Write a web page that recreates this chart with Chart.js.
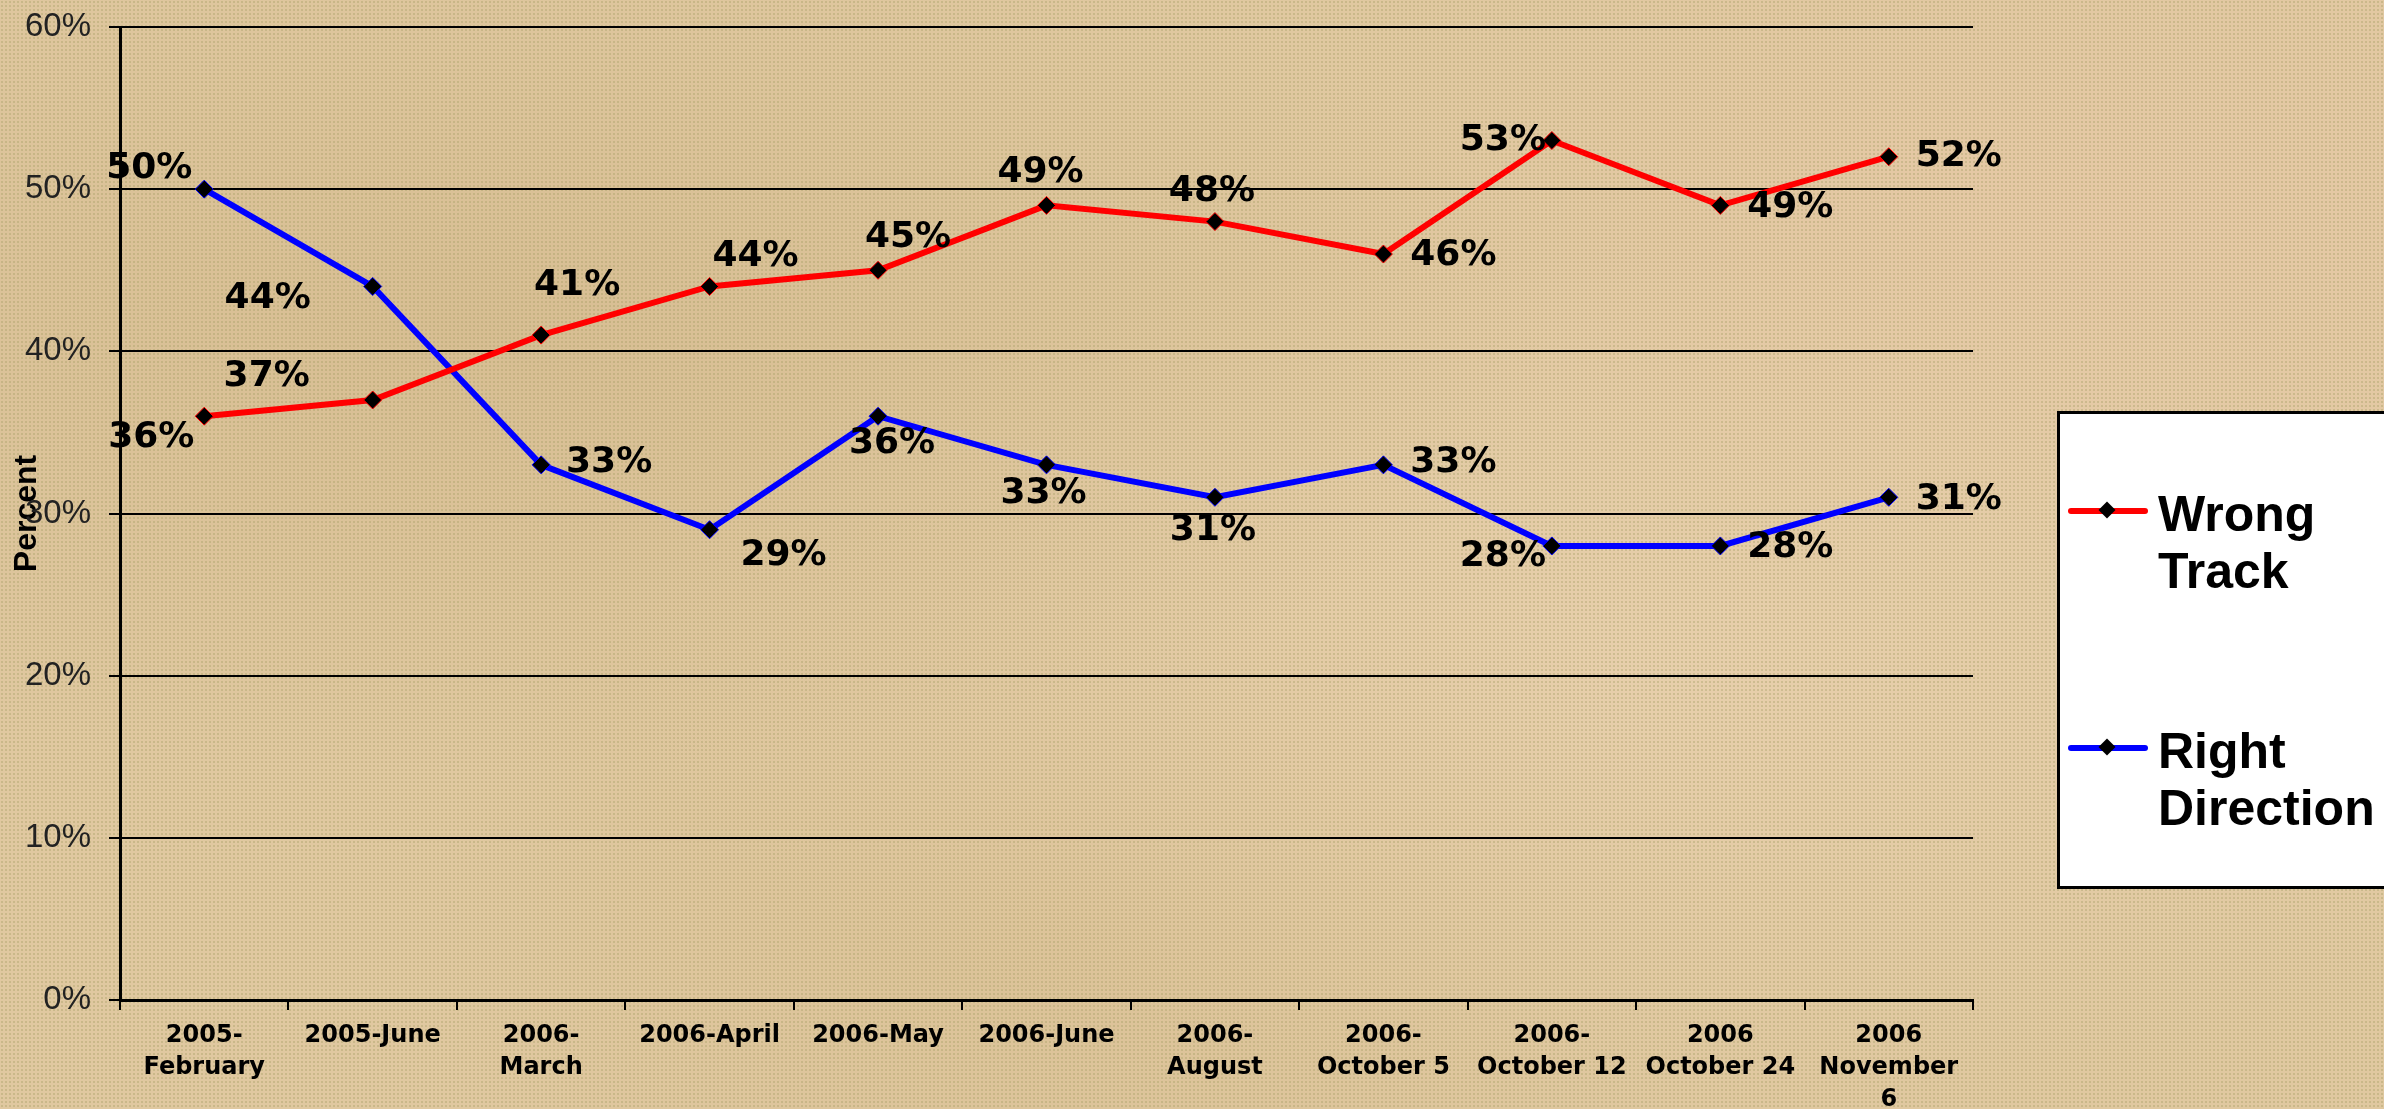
<!DOCTYPE html>
<html>
<head>
<meta charset="utf-8">
<script src="https://cdn.jsdelivr.net/npm/chart.js@4.4.0/dist/chart.umd.min.js"></script>
<style>
  html, body { margin: 0; padding: 0; }
  body {
    width: 2384px; height: 1109px; overflow: hidden; position: relative;
    background-color: #e0c8a0;
    background-image:
      radial-gradient(circle, rgba(160,155,95,0.35) 1px, rgba(0,0,0,0) 1.5px),
      radial-gradient(ellipse at 20% 30%, rgba(195,165,115,0.3), rgba(0,0,0,0) 40%),
      radial-gradient(ellipse at 70% 60%, rgba(240,215,185,0.45), rgba(0,0,0,0) 45%),
      radial-gradient(ellipse at 45% 85%, rgba(205,175,125,0.25), rgba(0,0,0,0) 35%),
      radial-gradient(ellipse at 88% 20%, rgba(240,200,175,0.35), rgba(0,0,0,0) 30%);
    background-size: 4px 4px, 100% 100%, 100% 100%, 100% 100%, 100% 100%;
  }
  #wrap { position: absolute; left: 0; top: 0; width: 2384px; height: 1109px; }
  #legend {
    position: absolute; left: 2057px; top: 411px; width: 340px; height: 478px;
    background: #fff; border: 3px solid #000; box-sizing: border-box;
    font-family: "Liberation Sans", Arial, sans-serif; font-weight: bold;
    font-size: 50px; line-height: 57px; color: #000;
  }
  .item { position: absolute; left: 8px; display: flex; align-items: flex-start; }
  .sample { position: relative; width: 80px; height: 6px; margin-top: 22px; margin-right: 10px; border-radius: 3px; }
  .sample i {
    position: absolute; left: 33px; top: -4px; width: 12px; height: 12px;
    background: #000; transform: rotate(45deg);
  }
</style>
</head>
<body>
<div id="wrap"><canvas id="myChart" width="2384" height="1109"></canvas></div>
<div id="legend"></div>
<script>
const categories = [
  ["2005-", "February"], "2005-June", ["2006-", "March"], "2006-April", "2006-May",
  "2006-June", ["2006-", "August"], ["2006-", "October 5"], ["2006-", "October 12"],
  ["2006", "October 24"], ["2006", "November", "6"]
];
const wrongTrack = [36, 37, 41, 44, 45, 49, 48, 46, 53, 49, 52];
const rightDirection = [50, 44, 33, 29, 36, 33, 31, 33, 28, 28, 31];
const yTicks = [0, 10, 20, 30, 40, 50, 60];

// where each value label sits relative to its point (px)
const wrongOffsets = [[-53, 21], [-106, -23], [36, -49], [46, -30], [30, -33], [-6, -33],
  [-3, -30], [70, 2], [-49, 0], [70, 2], [70, 0]];
const rightOffsets = [[-55, -21], [-105, 12], [68, -2], [74, 26], [14, 27], [-3, 29],
  [-2, 33], [70, -2], [-49, 11], [70, 2], [70, 2]];

const pointLabels = {
  id: 'pointLabels',
  afterDatasetsDraw(chart) {
    const ctx = chart.ctx;
    ctx.save();
    ctx.font = 'bold 36px "DejaVu Sans", sans-serif';
    ctx.fillStyle = '#000';
    ctx.textAlign = 'center';
    ctx.textBaseline = 'middle';
    chart.data.datasets.forEach((ds, i) => {
      const meta = chart.getDatasetMeta(i);
      meta.data.forEach((pt, j) => {
        const off = ds.labelOffsets[j];
        ctx.fillText(ds.data[j] + '%', pt.x + off[0], pt.y + off[1]);
      });
    });
    ctx.restore();
  }
};

const chart = new Chart("myChart", {
  type: "line",
  data: {
    labels: categories,
    datasets: [
      {
        label: ["Wrong", "Track"],
        data: wrongTrack,
        borderColor: "#ff0000",
        labelOffsets: wrongOffsets
      },
      {
        label: ["Right", "Direction"],
        data: rightDirection,
        borderColor: "#0000ff",
        labelOffsets: rightOffsets
      }
    ]
  },
  options: {
    responsive: false,
    animation: false,
    layout: { padding: { top: 27, right: 411, left: 0, bottom: 0 } },
    elements: {
      line: { borderWidth: 6, tension: 0 },
      point: { pointStyle: 'rectRot', radius: 9, backgroundColor: '#000', borderColor: '#000', borderWidth: 1 }
    },
    plugins: {
      legend: { display: false },
      tooltip: { enabled: false }
    },
    scales: {
      x: {
        offset: true,
        grid: { offset: true, drawOnChartArea: false, color: '#000', tickLength: 10, lineWidth: 2 },
        border: { color: '#000', width: 3 },
        ticks: {
          color: '#000', padding: 10, maxRotation: 0, autoSkip: false,
          font: { family: '"DejaVu Sans", sans-serif', weight: 'bold', size: 24, lineHeight: '32px' }
        },
        afterFit(scale) { scale.height = 109; scale.paddingLeft = 0; scale.paddingRight = 0; }
      },
      y: {
        min: 0, max: 60,
        afterBuildTicks(scale) { scale.ticks = yTicks.map(v => ({ value: v })); },
        grid: { color: '#000', lineWidth: 2, tickLength: 11 },
        border: { color: '#000', width: 3 },
        title: {
          display: true, text: 'Percent', color: '#000',
          font: { family: '"Liberation Sans", Arial, sans-serif', weight: 'bold', size: 32 },
          padding: { top: 8, bottom: 0 }
        },
        ticks: {
          color: '#222', padding: 18,
          font: { family: '"Liberation Sans", Arial, sans-serif', size: 33 },
          callback: v => v + '%'
        },
        afterFit(scale) { scale.width = 120; scale.paddingTop = 0; scale.paddingBottom = 0; }
      }
    }
  },
  plugins: [pointLabels]
});

// legend in a white box, built from the datasets
const legendEl = document.getElementById('legend');
const tops = [72, 309];
chart.data.datasets.forEach((ds, i) => {
  const item = document.createElement('div');
  item.className = 'item';
  item.style.top = tops[i] + 'px';
  const sample = document.createElement('div');
  sample.className = 'sample';
  sample.style.background = ds.borderColor;
  sample.appendChild(document.createElement('i'));
  const text = document.createElement('div');
  text.innerHTML = ds.label.join('<br>');
  item.appendChild(sample);
  item.appendChild(text);
  legendEl.appendChild(item);
});
</script>
</body>
</html>
